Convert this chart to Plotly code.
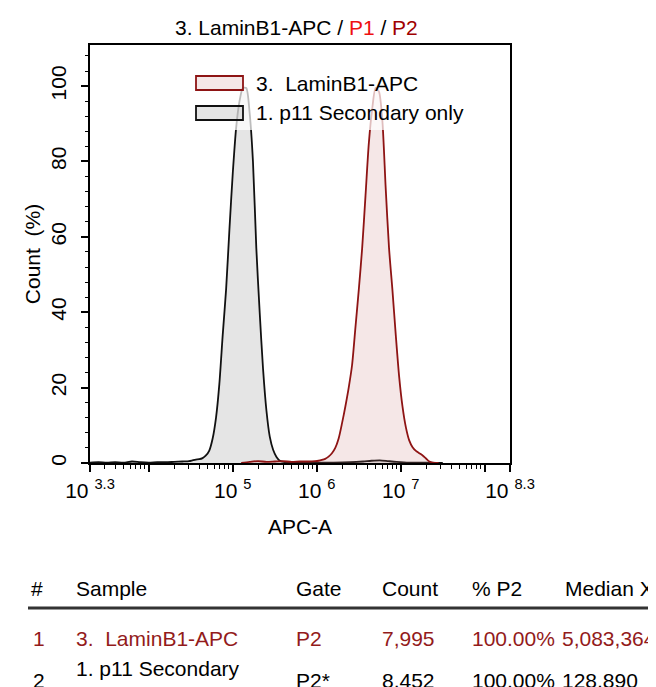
import numpy as np
import plotly.graph_objects as go

# ---------------- data ----------------
# log10(APC-A) positions and normalised counts (%)
black_log = [3.30, 3.40, 3.50, 3.60, 3.70, 3.80, 3.90, 4.00, 4.10, 4.20, 4.30, 4.40,
             4.48, 4.52,
             4.56, 4.60, 4.64, 4.68, 4.72, 4.76, 4.80, 4.84, 4.88, 4.92, 4.96, 5.00, 5.04,
             5.08, 5.12, 5.16, 5.20, 5.24, 5.28, 5.32, 5.36, 5.40, 5.44, 5.48, 5.52, 5.56, 5.60,
             5.70, 5.80, 5.90, 6.00, 6.20, 6.40, 6.55, 6.65, 6.75, 6.85, 6.95, 7.10, 7.30, 7.50]
black_pct = [0.1, 0.2, 0.1, 0.2, 0.1, 0.4, 0.2, 0.1, 0.2, 0.2, 0.3, 0.4,
             0.5, 0.7,
             0.9, 1.0, 1.3, 2.0, 3.3, 6.5, 12, 21, 34, 46, 62, 77, 89,
             96, 99.5, 99.5, 93, 80, 57, 40, 25, 14, 7, 3.5, 1.6, 0.6, 0.3,
             0.2, 0.1, 0.1, 0.1, 0.1, 0.2, 0.4, 0.6, 0.7, 0.5, 0.3, 0.1, 0.1, 0.0]

red_log = [5.10, 5.20, 5.30, 5.40, 5.50, 5.60, 5.70, 5.80, 5.90, 5.98,
           6.02, 6.06, 6.10, 6.14, 6.18, 6.22, 6.26, 6.30, 6.34, 6.38, 6.42, 6.46, 6.50,
           6.54, 6.58, 6.62, 6.66, 6.70, 6.74, 6.78, 6.82, 6.86, 6.90, 6.94, 6.98, 7.02,
           7.06, 7.10, 7.14, 7.18, 7.22, 7.26, 7.30, 7.34, 7.38, 7.45]
red_pct = [0.0, 0.3, 0.5, 0.3, 0.4, 0.5, 0.3, 0.4, 0.4, 0.5,
           0.6, 0.8, 1.1, 1.7, 2.6, 4.0, 6.5, 10.5, 15, 20, 26, 36, 46,
           57, 71, 85, 94, 99.5, 98.5, 91, 73, 57, 46, 34, 23, 15,
           9.5, 6.0, 4.2, 3.2, 2.6, 2.0, 1.2, 0.4, 0.1, 0.0]

series_names = ["3.  LaminB1-APC", "1. p11 Secondary only"]

x_tick_exponents = [3.3, 4, 5, 6, 7, 8, 8.3]
x_tick_labels = ["10 <sup>3.3</sup>", "", "10 <sup>5</sup>", "10 <sup>6</sup>",
                 "10 <sup>7</sup>", "", "10 <sup>8.3</sup>"]
y_ticks = [0, 20, 40, 60, 80, 100]

table_header = ["#", "Sample", "Gate", "Count", "% P2", "Median X"]
table_row1 = ["1", "3.  LaminB1-APC", "P2", "7,995", "100.00%", "5,083,364"]
table_row2 = ["2", "1. p11 Secondary<br>only", "P2*", "8,452", "100.00%", "128,890"]

# ---------------- styling ----------------
RED_LINE = "#8e1414"
RED_FILL = "rgba(200,120,120,0.18)"
BLK_LINE = "#111111"
BLK_FILL = "rgba(150,150,150,0.25)"
FONT = "Liberation Sans, Arial, Helvetica, sans-serif"

W, H = 656, 687
L, R, T, B = 82, 502, 37, 455   # plot area in pixels


def px(xp):
    return (xp - L) / (R - L)


def py(yp):
    return (B - yp) / (B - T)


fig = go.Figure()
fig.add_trace(go.Scatter(
    x=10 ** np.array(black_log), y=black_pct, mode="lines", fill="tozeroy",
    line=dict(color=BLK_LINE, width=1.8, shape="spline", smoothing=0.7),
    fillcolor=BLK_FILL, name=series_names[1], hoverinfo="skip"))
fig.add_trace(go.Scatter(
    x=10 ** np.array(red_log), y=red_pct, mode="lines", fill="tozeroy",
    line=dict(color=RED_LINE, width=1.8, shape="spline", smoothing=0.7),
    fillcolor=RED_FILL, name=series_names[0], hoverinfo="skip"))

minor_vals = [k * 10 ** d for d in range(3, 9) for k in range(2, 10)
              if 3.3 <= np.log10(k * 10 ** d) <= 8.3]

fig.update_layout(
    width=W, height=H,
    margin=dict(l=L, r=W - R, t=T, b=H - B),
    plot_bgcolor="white", paper_bgcolor="white",
    showlegend=False,
    font=dict(family=FONT, size=21, color="black"),
    xaxis=dict(
        type="log", range=[3.3, 8.3],
        tickvals=[10 ** e for e in x_tick_exponents], ticktext=x_tick_labels,
        ticks="outside", ticklen=7, tickwidth=1.5, tickcolor="black",
        ticklabelstandoff=1,
        minor=dict(tickvals=minor_vals, ticks="outside", ticklen=4,
                   tickwidth=1, tickcolor="black"),
        showline=True, linecolor="black", linewidth=1.5, mirror=True,
        showgrid=False, zeroline=False,
        tickfont=dict(size=21),
        title=dict(text="APC-A", font=dict(size=21), standoff=18),
    ),
    yaxis=dict(
        range=[0, 110.9], tickvals=y_ticks, tickangle=-90,
        ticks="outside", ticklen=7, tickwidth=1.5, tickcolor="black",
        ticklabelstandoff=7,
        minor=dict(dtick=4, ticks="outside", ticklen=3.5, tickwidth=1,
                   tickcolor="black"),
        showline=True, linecolor="black", linewidth=1.5, mirror=True,
        showgrid=False, zeroline=False,
        tickfont=dict(size=21),
        title=dict(text="Count  (%)", font=dict(size=21), standoff=0),
    ),
)

shapes = []
annotations = []

# title
annotations.append(dict(
    xref="paper", yref="paper", x=px(288), y=py(19), xanchor="center", yanchor="middle",
    showarrow=False, font=dict(size=21),
    text='3. LaminB1-APC / <span style="color:#ee1111">P1</span> / '
         '<span style="color:#a00000">P2</span>'))

# legend (translucent white panel + swatches)
shapes.append(dict(type="rect", xref="paper", yref="paper", layer="above",
                   x0=px(180), x1=px(472), y0=py(122), y1=py(60),
                   fillcolor="rgba(255,255,255,0.72)", line=dict(width=0)))
legend_style = [(RED_LINE, RED_FILL), (BLK_LINE, BLK_FILL)]
for i, (name, (lc, fc)) in enumerate(zip(series_names, legend_style)):
    yc = 75 + 30 * i
    shapes.append(dict(type="rect", xref="paper", yref="paper", layer="above",
                       x0=px(188), x1=px(235), y0=py(yc + 7), y1=py(yc - 7),
                       fillcolor=fc, line=dict(color=lc, width=1.8)))
    annotations.append(dict(xref="paper", yref="paper", x=px(246), y=py(yc),
                            xanchor="left", yanchor="middle", showarrow=False,
                            text=name, font=dict(size=21)))

# table below the chart
col_x = [21, 66, 286, 372, 462, 555]
row_x = [23, 66, 286, 372, 462, 552]
for cx, txt in zip(col_x, table_header):
    annotations.append(dict(xref="paper", yref="paper", x=px(cx), y=py(580),
                            xanchor="left", yanchor="middle", showarrow=False,
                            text=txt, font=dict(size=21)))
shapes.append(dict(type="line", xref="paper", yref="paper",
                   x0=px(20), x1=px(656), y0=py(600), y1=py(600),
                   line=dict(color="#333333", width=3)))
for cx, txt in zip(row_x, table_row1):
    annotations.append(dict(xref="paper", yref="paper", x=px(cx), y=py(630),
                            xanchor="left", yanchor="middle", showarrow=False,
                            text=txt, font=dict(size=21, color="#931b1b")))
for cx, txt in zip(row_x, table_row2):
    yrow = 674 if "<br>" in txt else 672
    annotations.append(dict(xref="paper", yref="paper", x=px(cx), y=py(yrow),
                            xanchor="left", yanchor="middle", showarrow=False,
                            align="left", text=txt, font=dict(size=21)))

fig.update_layout(shapes=shapes, annotations=annotations)
fig.write_html("out.html")
